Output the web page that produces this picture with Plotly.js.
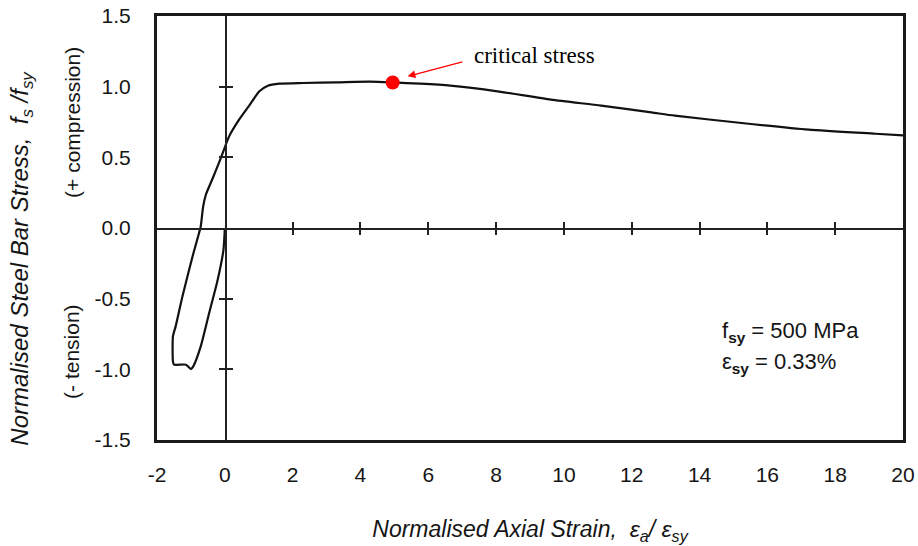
<!DOCTYPE html>
<html>
<head>
<meta charset="utf-8">
<script src="https://cdn.plot.ly/plotly-3.0.1.min.js"></script>
<style>html,body{margin:0;padding:0;background:#fff;}#chart{width:918px;height:546px;}</style>
</head>
<body>
<div id="chart"></div>
<script>
// Normalised axial strain (eps_a / eps_sy) along the loading path
var strain = [0, -0.04, -0.21, -0.46, -0.71, -0.93, -1.00, -1.15, -1.50, -1.53, -1.53, -1.45, -1.25, -0.95, -0.76, -0.71, -0.64, -0.56, -0.36, -0.11, 0.13, 0.43, 0.73, 1.02, 1.27, 1.61, 2.31, 3.29, 4.28, 4.95, 5.76, 6.65, 8.04, 9.62, 11.1, 12.58, 13.27, 15.24, 17.22, 19.19, 20.0];
// Normalised steel bar stress (fs / fsy)
var stress = [0, -0.154, -0.366, -0.60, -0.838, -0.979, -0.998, -0.967, -0.967, -0.944, -0.767, -0.696, -0.484, -0.20, -0.035, 0.011, 0.15, 0.235, 0.35, 0.50, 0.65, 0.77, 0.87, 0.967, 1.007, 1.021, 1.026, 1.030, 1.035, 1.03, 1.021, 1.007, 0.967, 0.908, 0.866, 0.818, 0.795, 0.743, 0.696, 0.667, 0.655];
// Critical stress point
var criticalStrain = [4.95];
var criticalStress = [1.03];
// Axis ticks
var xTicks = [-2, 0, 2, 4, 6, 8, 10, 12, 14, 16, 18, 20];
var xTickText = ['-2', '0', '2', '4', '6', '8', '10', '12', '14', '16', '18', '20'];
var yTicks = [-1.5, -1.0, -0.5, 0.0, 0.5, 1.0, 1.5];
var yTickText = ['-1.5', '-1.0', '-0.5', '0.0', '0.5', '1.0', '1.5'];
var innerXTicks = [2, 4, 6, 8, 10, 12, 14, 16, 18];
var innerYTicks = [-1.0, -0.5, 0.5, 1.0];
var xRange = [-2, 20];
var yRange = [-1.5, 1.5];

var sans = 'Liberation Sans, Arial, sans-serif';
var serif = 'Liberation Serif, Times New Roman, serif';
var ink = '#151515';

var traces = [
  {x: strain, y: stress, type: 'scatter', mode: 'lines', xaxis: 'x', yaxis: 'y',
   line: {color: '#111', width: 2.2, shape: 'spline', smoothing: 0.6}, hoverinfo: 'skip', showlegend: false},
  {x: criticalStrain, y: criticalStress, type: 'scatter', mode: 'markers', xaxis: 'x2', yaxis: 'y2',
   marker: {color: '#ff0000', size: 14}, showlegend: false},
  {x: strain, y: stress, type: 'scatter', mode: 'lines', xaxis: 'x3', yaxis: 'y3',
   line: {color: 'rgba(0,0,0,0)', width: 0}, hoverinfo: 'skip', showlegend: false}
];

var crossX = (0 - xRange[0]) / (xRange[1] - xRange[0]);
var crossY = (0 - yRange[0]) / (yRange[1] - yRange[0]);

var layout = {
  width: 918, height: 546,
  margin: {l: 157, r: 15, t: 16, b: 106},
  paper_bgcolor: '#fff', plot_bgcolor: '#fff',
  showlegend: false,
  xaxis: {
    range: xRange, tickvals: xTicks, ticktext: xTickText,
    showgrid: false, zeroline: false, showline: true, mirror: true,
    linecolor: '#1a1a1a', linewidth: 3, ticks: '',
    ticklabelstandoff: 14,
    tickfont: {family: sans, size: 21, color: ink},
    title: {text: '<i>Normalised Axial Strain,  ε<sub>a</sub>/ ε<sub>sy</sub></i>',
            font: {family: sans, size: 23, color: ink}, standoff: 36}
  },
  yaxis: {
    range: yRange, tickvals: yTicks, ticktext: yTickText,
    showgrid: false, zeroline: false, showline: true, mirror: true,
    linecolor: '#1a1a1a', linewidth: 3, ticks: '',
    ticklabelstandoff: 19,
    tickfont: {family: sans, size: 21, color: ink}
  },
  xaxis2: {overlaying: 'x', anchor: 'free', position: crossY, range: xRange,
    tickvals: innerXTicks, showticklabels: false, ticks: 'inside', ticklen: 6, tickwidth: 2, tickcolor: '#222',
    showline: true, linecolor: '#222', linewidth: 1.6, showgrid: false, zeroline: false},
  yaxis2: {overlaying: 'y', anchor: 'free', position: crossX, range: yRange,
    tickvals: innerYTicks, showticklabels: false, ticks: 'inside', ticklen: 6, tickwidth: 2, tickcolor: '#222',
    showline: true, linecolor: '#222', linewidth: 1.8, showgrid: false, zeroline: false},
  xaxis3: {overlaying: 'x', anchor: 'free', position: crossY, range: xRange,
    tickvals: innerXTicks, showticklabels: false, ticks: 'outside', ticklen: 6, tickwidth: 2, tickcolor: '#222',
    showline: false, showgrid: false, zeroline: false},
  yaxis3: {overlaying: 'y', anchor: 'free', position: crossX, range: yRange,
    tickvals: innerYTicks, showticklabels: false, ticks: 'outside', ticklen: 6, tickwidth: 2, tickcolor: '#222',
    showline: false, showgrid: false, zeroline: false},
  annotations: [
    {xref: 'paper', yref: 'paper', x: -0.181, y: 0.430, textangle: -90, showarrow: false,
     text: '<i>Normalised Steel Bar Stress,&nbsp; f<sub>s</sub>&nbsp;/f<sub>sy</sub></i>',
     font: {family: sans, size: 24, color: ink}, xanchor: 'center', yanchor: 'middle'},
    {xref: 'paper', yref: 'paper', x: -0.114, y: 0.75, textangle: -90, showarrow: false,
     text: '(+ compression)', font: {family: sans, size: 21, color: ink}, xanchor: 'center', yanchor: 'middle'},
    {xref: 'paper', yref: 'paper', x: -0.114, y: 0.21, textangle: -90, showarrow: false,
     text: '(- tension)', font: {family: sans, size: 21, color: ink}, xanchor: 'center', yanchor: 'middle'},
    {xref: 'x', yref: 'y', x: 9.14, y: 1.219, showarrow: false, text: 'critical stress',
     font: {family: serif, size: 23, color: '#000'}, xanchor: 'center', yanchor: 'middle'},
    {xref: 'x', yref: 'y', x: 5.39, y: 1.073, axref: 'x', ayref: 'y', ax: 7.05, ay: 1.179,
     text: '', showarrow: true, arrowhead: 2, arrowsize: 1.2, arrowwidth: 1.3, arrowcolor: '#ff0000'},
    {xref: 'x', yref: 'y', x: 14.59, y: -0.734, showarrow: false, xanchor: 'left', yanchor: 'middle',
     text: 'f<sub><b>sy</b></sub> = 500 MPa', font: {family: sans, size: 22, color: ink}},
    {xref: 'x', yref: 'y', x: 14.59, y: -0.953, showarrow: false, xanchor: 'left', yanchor: 'middle',
     text: 'ε<sub><b>sy</b></sub> = 0.33%', font: {family: sans, size: 22, color: ink}}
  ]
};

Plotly.newPlot('chart', traces, layout, {displayModeBar: false, staticPlot: true});
</script>
</body>
</html>
